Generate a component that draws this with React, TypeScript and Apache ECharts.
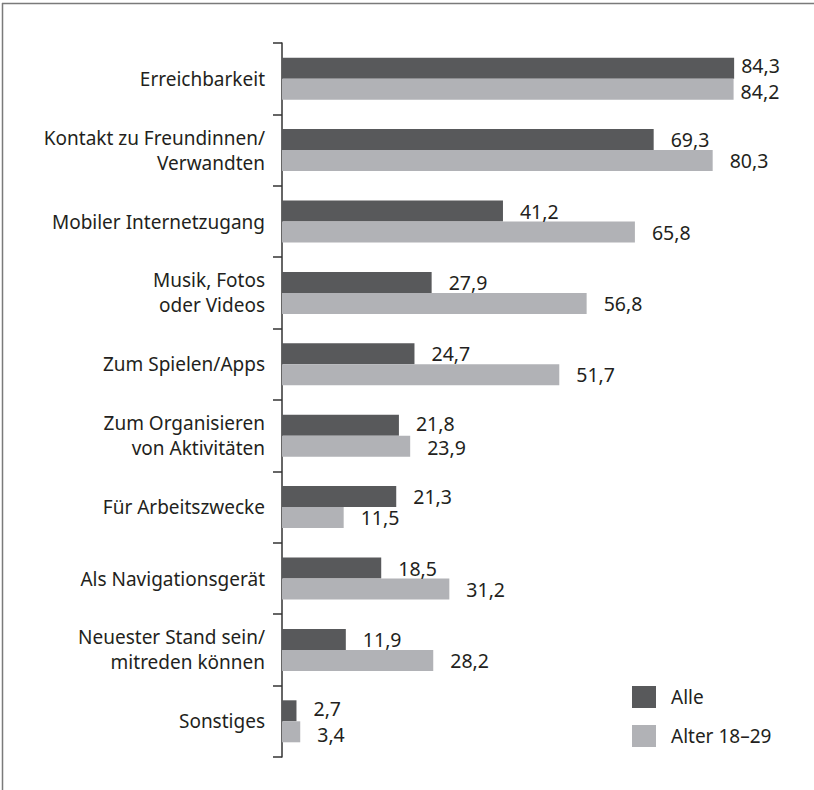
import React, { useEffect, useRef } from "react";
import * as echarts from "echarts";

const categories = [
  "Erreichbarkeit",
  "Kontakt zu Freundinnen/\nVerwandten",
  "Mobiler Internetzugang",
  "Musik, Fotos\noder Videos",
  "Zum Spielen/Apps",
  "Zum Organisieren\nvon Aktivitäten",
  "Für Arbeitszwecke",
  "Als Navigationsgerät",
  "Neuester Stand sein/\nmitreden können",
  "Sonstiges",
];
const seriesNames = ["Alle", "Alter 18–29"];
const alle = [84.3, 69.3, 41.2, 27.9, 24.7, 21.8, 21.3, 18.5, 11.9, 2.7];
const alter1829 = [84.2, 80.3, 65.8, 56.8, 51.7, 23.9, 11.5, 31.2, 28.2, 3.4];

const DARK = "#58595b";
const LIGHT = "#b1b2b6";
const TEXT = "#231f20";
const FONT = "'Noto Sans', 'Open Sans', sans-serif";

export default function App() {
  const ref = useRef<HTMLDivElement>(null);
  useEffect(() => {
    document.body.style.margin = "0";
    if (!ref.current) return;
    const chart = echarts.init(ref.current, null, { renderer: "svg" });
    const fmt = (p: any) => String(p.value).replace(".", ",");
    const mk = (vals: number[], other: number[], sign: number) =>
      vals.map((v, i) => {
        const diff = Math.abs(v - other[i]);
        const dy = diff < 1 ? 2.5 : diff < 3 ? 1.5 : 0;
        return {
          value: v,
          label: {
            distance: i === 0 ? 7 : 17,
            offset: [0, sign * dy],
          },
        };
      });
    const valueLabel = {
      show: true,
      position: "right",
      formatter: fmt,
      color: TEXT,
      fontSize: 19.5,
      lineHeight: 19,
      fontFamily: FONT,
    };
    chart.setOption({
      animation: false,
      backgroundColor: "#ffffff",
      textStyle: { fontFamily: FONT },
      grid: { left: 282, top: 43, bottom: 33, width: 482.7, containLabel: false },
      legend: {
        orient: "vertical",
        left: 627,
        top: 681,
        itemWidth: 24,
        itemHeight: 22,
        itemGap: 17,
        icon: "rect",
        data: seriesNames,
        textStyle: { color: TEXT, fontSize: 19, fontFamily: FONT, padding: [0, 0, 0, 10] },
      },
      xAxis: {
        type: "value",
        min: 0,
        max: 90,
        show: false,
        splitLine: { show: false },
      },
      yAxis: {
        type: "category",
        data: categories,
        inverse: true,
        axisLine: { show: true, lineStyle: { color: "#333333", width: 1.5 } },
        axisTick: { show: true, length: 9, lineStyle: { color: "#333333", width: 1.5 } },
        axisLabel: {
          color: TEXT,
          fontSize: 19,
          fontFamily: FONT,
          lineHeight: 25,
          margin: 17,
          align: "right",
        },
      },
      series: [
        {
          name: seriesNames[0],
          type: "bar",
          data: mk(alle, alter1829, -1),
          barWidth: 21,
          barGap: "0%",
          itemStyle: { color: DARK },
          label: valueLabel,
        },
        {
          name: seriesNames[1],
          type: "bar",
          data: mk(alter1829, alle, 1),
          barWidth: 21,
          barGap: "0%",
          itemStyle: { color: LIGHT },
          label: valueLabel,
        },
      ],
      graphic: [
        { type: "line", shape: { x1: 2, y1: 3.5, x2: 814, y2: 3.5 }, style: { stroke: "#7a7a7a", lineWidth: 1.5 } },
        { type: "line", shape: { x1: 2.5, y1: 3, x2: 2.5, y2: 790 }, style: { stroke: "#7a7a7a", lineWidth: 1.5 } },
      ],
    });
    return () => chart.dispose();
  }, []);
  return <div ref={ref} style={{ width: 814, height: 790 }} />;
}
